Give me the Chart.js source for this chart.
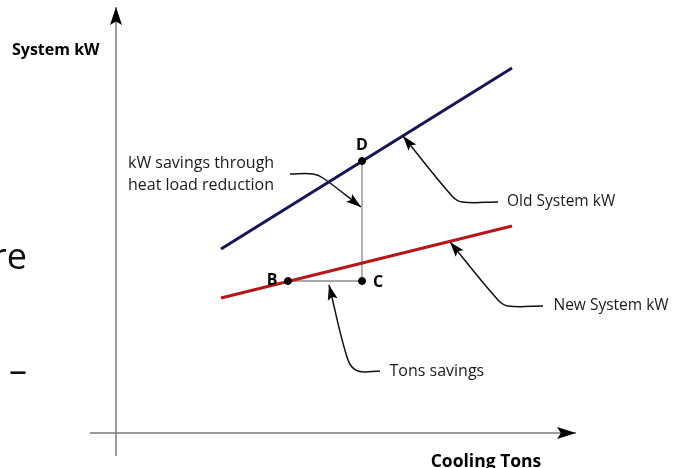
<!DOCTYPE html>
<html><head><meta charset="utf-8">
<script src="https://cdn.jsdelivr.net/npm/chart.js@4"></script>
<style>html,body{margin:0;padding:0;background:#fff;overflow:hidden}#wrap{width:681px;height:468px}</style>
</head><body><div id="wrap"><canvas id="c" width="681" height="468"></canvas></div>
<script>
// ---- data (Cooling Tons on x, System kW on y; arbitrary units) ----
const tonsRange = [21, 79.2];
const oldSystemKW = [36.8, 73];
const newSystemKW = [27, 41.4];
const pointB = [34.4, 30.4];
const pointC = [49.2, 30.4];
const pointD = [49.2, 54.4];
const yAxisLine = [[0, -4.6], [0, 85.2]];
const xAxisLine = [[-5.2, 0], [92, 0]];
const leaderOld = [[76.4, 46.2], [69.2, 46.2], [67.2, 47.4], [57.4, 59.4]];
const leaderNew = [[85.4, 25.4], [78.4, 25.4], [76.4, 26.6], [66.8, 38.2]];
const leaderTons = [[52.8, 12.4], [48.4, 12.4], [46.4, 14.6], [42.6, 29.6]];
const leaderKW = [[34.8, 51.8], [39.4, 51.8], [41.4, 51.0], [49, 45.2]];

const pts = a => a.map(p => ({x: p[0], y: p[1]}));
const line2 = (xs, ys) => xs.map((x, i) => ({x, y: ys[i]}));

const annotations = [
  {t: 'System kW', x: -20.8, y: 76.6, font: 'bold 16px "Open Sans"', align: 'left', base: 'middle', color: '#000'},
  {t: 'kW savings through', x: 2.4, y: 54, font: '16px "Open Sans"', align: 'left', base: 'middle', color: '#1a1a1a'},
  {t: 'heat load reduction', x: 2.4, y: 49.6, font: '16px "Open Sans"', align: 'left', base: 'middle', color: '#1a1a1a'},
  {t: 'Old System kW', x: 78.2, y: 46.2, font: '15.5px "Open Sans"', align: 'left', base: 'middle', color: '#1a1a1a'},
  {t: 'New System kW', x: 87.5, y: 25.4, font: '15.5px "Open Sans"', align: 'left', base: 'middle', color: '#1a1a1a'},
  {t: 'Tons savings', x: 54.7, y: 12.4, font: '16px "Open Sans"', align: 'left', base: 'middle', color: '#1a1a1a'},
  {t: 'D', x: 49.2, y: 57.6, font: 'bold 16px "Open Sans"', align: 'center', base: 'middle', color: '#000'},
  {t: 'C', x: 52.4, y: 30.2, font: 'bold 16px "Open Sans"', align: 'center', base: 'middle', color: '#000'},
  {t: 'B', x: 31.2, y: 30.5, font: 'bold 16px "Open Sans"', align: 'center', base: 'middle', color: '#000'},
  {t: 'Cooling Tons', x: 74, y: -6.8, font: 'bold 17.5px "Open Sans"', align: 'center', base: 'alphabetic', color: '#000'},
  {t: 're', x: -17.8, y: 32.8, font: '36px "Open Sans"', align: 'right', base: 'alphabetic', color: '#111'},
  {t: '\u2013', x: -17.8, y: 10, font: '36px "Open Sans"', align: 'right', base: 'alphabetic', color: '#111'}
];

const arrowPlugin = {
  id: 'arrowsAndText',
  afterDatasetsDraw(chart) {
    const ctx = chart.ctx;
    chart.data.datasets.forEach((ds, i) => {
      if (!ds.arrowLen) return;
      const el = chart.getDatasetMeta(i).data;
      const a = el[el.length - 2], b = el[el.length - 1];
      const ang = Math.atan2(b.y - a.y, b.x - a.x);
      ctx.save();
      ctx.translate(b.x, b.y); ctx.rotate(ang);
      ctx.beginPath();
      ctx.moveTo(0, 0);
      ctx.lineTo(-ds.arrowLen, ds.arrowW / 2);
      ctx.lineTo(-ds.arrowLen * 0.8, 0);
      ctx.lineTo(-ds.arrowLen, -ds.arrowW / 2);
      ctx.closePath();
      ctx.fillStyle = '#000'; ctx.fill();
      ctx.restore();
    });
    const xs = chart.scales.x, ys = chart.scales.y;
    annotations.forEach(a => {
      ctx.save();
      ctx.font = a.font; ctx.fillStyle = a.color;
      ctx.textAlign = a.align; ctx.textBaseline = a.base;
      ctx.fillText(a.t, xs.getPixelForValue(a.x), ys.getPixelForValue(a.y));
      ctx.restore();
    });
  }
};

const lineDs = (data, color, width, order, extra) => Object.assign({
  type: 'line', data, borderColor: color, borderWidth: width, pointRadius: 0,
  fill: false, tension: 0, order
}, extra || {});

new Chart(document.getElementById('c'), {
  type: 'scatter',
  data: {
    datasets: [
      {type: 'scatter', data: pts([pointB, pointC, pointD]), pointRadius: 3.5,
       backgroundColor: '#000', borderColor: '#000', order: 0},
      lineDs(line2(tonsRange, oldSystemKW), '#15155a', 3, 1),
      lineDs(line2(tonsRange, newSystemKW), '#b5171b', 3, 1),
      lineDs(pts([pointD, pointC]), '#8c8c8c', 1.3, 3),
      lineDs(pts([pointB, pointC]), '#8c8c8c', 1.3, 3),
      lineDs(pts(leaderOld), '#111', 1.5, 2, {tension: 0.35, arrowLen: 15, arrowW: 10}),
      lineDs(pts(leaderNew), '#111', 1.5, 2, {tension: 0.35, arrowLen: 15, arrowW: 10}),
      lineDs(pts(leaderTons), '#111', 1.5, 2, {tension: 0.35, arrowLen: 15, arrowW: 10}),
      lineDs(pts(leaderKW), '#111', 1.5, 2, {tension: 0.35, arrowLen: 15, arrowW: 10}),
      lineDs(pts(yAxisLine), '#7a7a7a', 1.5, 4, {arrowLen: 18, arrowW: 12}),
      lineDs(pts(xAxisLine), '#7a7a7a', 1.5, 4, {arrowLen: 19, arrowW: 12})
    ]
  },
  options: {
    responsive: false,
    animation: false,
    layout: {padding: 0, autoPadding: false},
    plugins: {legend: {display: false}, tooltip: {enabled: false}},
    scales: {
      x: {type: 'linear', min: -23.2, max: 113, display: false},
      y: {type: 'linear', min: -7, max: 86.6, display: false}
    }
  },
  plugins: [arrowPlugin]
});
</script>
</body></html>
